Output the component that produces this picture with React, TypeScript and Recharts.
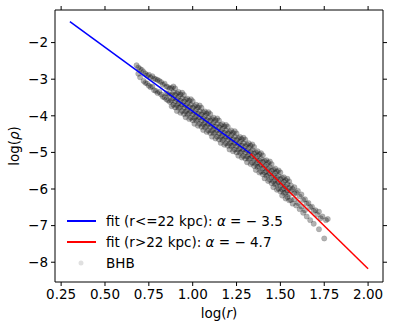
import React from "react";
import {
  ComposedChart,
  Scatter,
  XAxis,
  YAxis,
} from "recharts";

// BHB stars: [log(r), log(rho)]
const bhb: [number, number][] = [
  [0.68, -2.62], [0.69, -2.68], [0.69, -2.85], [0.7, -2.72], [0.7, -2.95], [0.71, -2.75],
  [0.72, -2.8], [0.72, -3.05], [0.73, -2.85], [0.73, -3.1], [0.74, -2.9], [0.74, -3.12],
  [0.75, -2.88], [0.75, -3.18], [0.76, -2.95], [0.76, -3.22], [0.77, -2.92], [0.77, -3.2],
  [0.78, -2.98], [0.78, -3.3], [0.79, -3.0], [0.79, -3.32], [0.8, -3.02], [0.8, -3.38],
  [0.81, -3.05], [0.81, -3.35], [0.82, -3.08], [0.82, -3.42], [0.83, -3.15], [0.83, -3.48],
  [0.84, -3.12], [0.84, -3.5], [0.85, -3.2], [0.85, -3.55], [0.85, -3.38], [0.86, -3.22],
  [0.86, -3.58], [0.86, -3.4], [0.87, -3.25], [0.87, -3.62], [0.87, -3.45],
  [0.88, -3.24], [0.88, -3.41], [0.88, -3.58], [0.88, -3.74],
  [0.89, -3.35], [0.89, -3.52], [0.89, -3.7], [0.89, -3.2],
  [0.9, -3.25], [0.9, -3.43], [0.9, -3.61], [0.9, -3.77],
  [0.91, -3.55], [0.91, -3.87], [0.91, -3.39], [0.91, -3.71],
  [0.92, -3.35], [0.92, -3.65], [0.92, -3.78], [0.92, -3.48],
  [0.93, -3.42], [0.93, -3.59], [0.93, -3.76], [0.93, -3.92],
  [0.94, -3.52], [0.94, -3.69], [0.94, -3.87], [0.94, -3.37],
  [0.95, -3.43], [0.95, -3.61], [0.95, -3.79], [0.95, -3.95],
  [0.96, -3.72], [0.96, -4.04], [0.96, -3.56], [0.96, -3.88],
  [0.97, -3.53], [0.97, -3.83], [0.97, -3.96], [0.97, -3.66],
  [0.98, -3.59], [0.98, -3.76], [0.98, -3.93], [0.98, -4.09],
  [0.99, -3.7], [0.99, -3.87], [0.99, -4.05], [0.99, -3.55],
  [1.0, -3.6], [1.0, -3.78], [1.0, -3.96], [1.0, -4.12],
  [1.01, -3.9], [1.01, -4.22], [1.01, -3.74], [1.01, -4.06],
  [1.02, -3.7], [1.02, -4.0], [1.02, -4.13], [1.02, -3.83],
  [1.03, -3.77], [1.03, -3.94], [1.03, -4.11], [1.03, -4.27],
  [1.04, -3.87], [1.04, -4.04], [1.04, -4.22], [1.04, -3.72],
  [1.05, -3.78], [1.05, -3.96], [1.05, -4.14], [1.05, -4.3],
  [1.06, -4.07], [1.06, -4.39], [1.06, -3.91], [1.06, -4.23],
  [1.07, -3.88], [1.07, -4.18], [1.07, -4.31], [1.07, -4.01],
  [1.08, -3.94], [1.08, -4.11], [1.08, -4.28], [1.08, -4.44],
  [1.09, -4.05], [1.09, -4.22], [1.09, -4.4], [1.09, -3.9],
  [1.1, -3.95], [1.1, -4.13], [1.1, -4.31], [1.1, -4.47],
  [1.11, -4.25], [1.11, -4.57], [1.11, -4.09], [1.11, -4.41],
  [1.12, -4.05], [1.12, -4.35], [1.12, -4.48], [1.12, -4.18],
  [1.13, -4.12], [1.13, -4.29], [1.13, -4.46], [1.13, -4.62],
  [1.14, -4.22], [1.14, -4.39], [1.14, -4.57], [1.14, -4.07],
  [1.15, -4.13], [1.15, -4.31], [1.15, -4.49], [1.15, -4.65],
  [1.16, -4.42], [1.16, -4.74], [1.16, -4.26], [1.16, -4.58],
  [1.17, -4.23], [1.17, -4.53], [1.17, -4.66], [1.17, -4.36],
  [1.18, -4.29], [1.18, -4.46], [1.18, -4.63], [1.18, -4.79],
  [1.19, -4.4], [1.19, -4.57], [1.19, -4.75], [1.19, -4.25],
  [1.2, -4.3], [1.2, -4.48], [1.2, -4.66], [1.2, -4.82],
  [1.21, -4.6], [1.21, -4.92], [1.21, -4.44], [1.21, -4.76],
  [1.22, -4.4], [1.22, -4.7], [1.22, -4.83], [1.22, -4.53],
  [1.23, -4.47], [1.23, -4.64], [1.23, -4.81], [1.23, -4.97],
  [1.24, -4.57], [1.24, -4.74], [1.24, -4.92], [1.24, -4.42],
  [1.25, -4.48], [1.25, -4.66], [1.25, -4.84], [1.25, -5.0],
  [1.26, -4.77], [1.26, -5.09], [1.26, -4.61], [1.26, -4.93],
  [1.27, -4.58], [1.27, -4.88], [1.27, -5.01], [1.27, -4.71],
  [1.28, -4.64], [1.28, -4.81], [1.28, -4.98], [1.28, -5.14],
  [1.29, -4.75], [1.29, -4.92], [1.29, -5.1], [1.29, -4.6],
  [1.3, -4.65], [1.3, -4.83], [1.3, -5.01], [1.3, -5.17],
  [1.31, -4.95], [1.31, -5.27], [1.31, -4.79], [1.31, -5.11],
  [1.32, -4.75], [1.32, -5.05], [1.32, -5.18], [1.32, -4.88],
  [1.33, -4.82], [1.33, -4.99], [1.33, -5.16], [1.33, -5.32],
  [1.34, -4.93], [1.34, -5.1], [1.34, -5.28], [1.34, -4.78],
  [1.35, -4.85], [1.35, -5.03], [1.35, -5.21], [1.35, -5.37],
  [1.36, -5.16], [1.36, -5.48], [1.36, -5.0], [1.36, -5.32],
  [1.37, -4.97], [1.37, -5.27], [1.37, -5.4], [1.37, -5.1],
  [1.38, -5.05], [1.38, -5.22], [1.38, -5.39], [1.38, -5.55],
  [1.39, -5.17], [1.39, -5.34], [1.39, -5.52], [1.39, -5.02],
  [1.4, -5.08], [1.4, -5.26], [1.4, -5.44], [1.4, -5.6],
  [1.41, -5.39], [1.41, -5.71], [1.41, -5.23], [1.41, -5.55],
  [1.42, -5.21], [1.42, -5.51], [1.42, -5.64], [1.42, -5.34],
  [1.43, -5.28], [1.43, -5.45], [1.43, -5.62], [1.43, -5.78],
  [1.44, -5.4], [1.44, -5.57], [1.44, -5.75], [1.44, -5.25],
  [1.45, -5.32], [1.45, -5.5], [1.45, -5.68], [1.45, -5.84],
  [1.46, -5.63], [1.46, -5.95], [1.46, -5.47], [1.46, -5.79],
  [1.47, -5.44], [1.47, -5.74], [1.47, -5.87], [1.47, -5.57],
  [1.48, -5.52], [1.48, -5.69], [1.48, -5.86], [1.48, -6.02],
  [1.49, -5.64], [1.49, -5.81], [1.49, -5.99], [1.49, -5.49],
  [1.5, -5.55], [1.5, -5.73], [1.5, -5.91], [1.5, -6.07],
  [1.51, -5.86], [1.51, -6.18], [1.51, -5.7], [1.51, -6.02],
  [1.52, -5.68], [1.52, -5.98], [1.52, -6.11], [1.52, -5.81],
  [1.53, -5.76], [1.53, -5.93], [1.53, -6.1], [1.53, -6.26],
  [1.54, -5.87], [1.54, -6.04], [1.54, -6.22], [1.54, -5.72],
  [1.55, -5.79], [1.55, -5.97], [1.55, -6.15], [1.55, -6.31],
  [1.56, -5.9], [1.56, -6.3], [1.56, -6.05], [1.57, -6.0], [1.57, -6.4],
  [1.58, -5.95], [1.58, -6.28], [1.58, -6.12], [1.59, -6.1], [1.59, -6.45],
  [1.6, -6.05], [1.6, -6.38], [1.61, -6.2], [1.61, -6.55], [1.62, -6.15], [1.62, -6.48],
  [1.63, -6.3], [1.63, -6.65], [1.64, -6.28], [1.64, -6.58], [1.65, -6.4], [1.65, -6.75],
  [1.66, -6.38], [1.67, -6.5], [1.67, -6.85], [1.68, -6.48], [1.69, -6.6], [1.69, -6.95],
  [1.7, -6.58], [1.71, -6.7], [1.72, -6.62], [1.72, -7.1], [1.73, -6.8], [1.74, -6.75],
  [1.75, -7.35], [1.76, -6.85], [1.77, -6.82],
];

// power-law fits (end points)
const fitInnerR = [0.3, 1.33];
const fitInnerRho = [-1.43, -5.035];
const fitOuterR = [1.33, 2.0];
const fitOuterRho = [-5.035, -8.18];

const xTicks = [0.25, 0.5, 0.75, 1.0, 1.25, 1.5, 1.75, 2.0];
const yTicks = [-8, -7, -6, -5, -4, -3, -2];

const bhbData = bhb.map(([x, y]) => ({ x, y }));
const innerData = fitInnerR.map((x, i) => ({ x, y: fitInnerRho[i] }));
const outerData = fitOuterR.map((x, i) => ({ x, y: fitOuterRho[i] }));

const font = "DejaVu Sans, sans-serif";
const fs = 13.5;
const tickStyle = { fill: "#000", fontSize: fs, fontFamily: font };
const minus = (v: number) => String(v).replace("-", "\u2212");

const Dot = (p: any) => (
  <circle
    cx={p.cx}
    cy={p.cy}
    r={2.7}
    fill="#000"
    fillOpacity={0.3}
    stroke="#000"
    strokeOpacity={0.12}
    strokeWidth={0.8}
  />
);
const NoDot = () => <g />;

function LegendBox() {
  const row = { display: "flex", alignItems: "center", height: 21 };
  const txt = { fontFamily: font, fontSize: fs, color: "#000", marginLeft: 10, whiteSpace: "nowrap" as const };
  return (
    <div style={{ position: "absolute", left: 67, top: 210 }}>
      <div style={row}>
        <svg width={29} height={4}><line x1={0} y1={2} x2={29} y2={2} stroke="blue" strokeWidth={2} /></svg>
        <span style={txt}>fit (r&lt;=22 kpc): <i>α</i> = − 3.5</span>
      </div>
      <div style={row}>
        <svg width={29} height={4}><line x1={0} y1={2} x2={29} y2={2} stroke="red" strokeWidth={2} /></svg>
        <span style={txt}>fit (r&gt;22 kpc): <i>α</i> = − 4.7</span>
      </div>
      <div style={row}>
        <svg width={29} height={8}><circle cx={14} cy={4} r={2.5} fill="#000" fillOpacity={0.12} /></svg>
        <span style={txt}>BHB</span>
      </div>
    </div>
  );
}

export default function App() {
  return (
    <div style={{ position: "absolute", left: 0, top: 0, width: 394, height: 330, background: "#fff" }}>
      <ComposedChart
        width={394}
        height={330}
        margin={{ top: 9, right: 10, bottom: 0, left: 0 }}
      >
        <XAxis
          xAxisId="b"
          type="number"
          dataKey="x"
          domain={[0.215, 2.085]}
          ticks={xTicks}
          tickFormatter={(v: number) => v.toFixed(2)}
          tick={tickStyle}
          tickSize={4}
          tickMargin={3}
          height={48}
          stroke="#000"
          allowDataOverflow
          label={{
            content: () => (
              <text x={219} y={318} textAnchor="middle" fontFamily={font} fontSize={fs} fill="#000">
                log(<tspan fontStyle="italic">r</tspan>)
              </text>
            ),
          }}
        />
        <XAxis
          xAxisId="t"
          orientation="top"
          type="number"
          dataKey="x"
          domain={[0.215, 2.085]}
          ticks={xTicks}
          tickFormatter={() => ""}
          tickSize={4}
          height={1}
          stroke="#000"
          allowDataOverflow
        />
        <YAxis
          yAxisId="l"
          type="number"
          dataKey="y"
          domain={[-8.54, -1.11]}
          ticks={yTicks}
          tickFormatter={minus}
          tick={tickStyle}
          tickSize={4}
          tickMargin={3}
          width={55}
          stroke="#000"
          allowDataOverflow
          label={{
            content: () => (
              <text
                x={19}
                y={146}
                textAnchor="middle"
                transform="rotate(-90 19 146)"
                fontFamily={font}
                fontSize={fs}
                fill="#000"
              >
                log(<tspan fontStyle="italic">ρ</tspan>)
              </text>
            ),
          }}
        />
        <YAxis
          yAxisId="r"
          orientation="right"
          type="number"
          dataKey="y"
          domain={[-8.54, -1.11]}
          ticks={yTicks}
          tickFormatter={() => ""}
          tickSize={4}
          width={1}
          stroke="#000"
          allowDataOverflow
        />
        <Scatter
          xAxisId="b"
          yAxisId="l"
          data={bhbData}
          shape={Dot}
          isAnimationActive={false}
        />
        <Scatter
          xAxisId="b"
          yAxisId="l"
          data={innerData}
          shape={NoDot}
          line={{ stroke: "blue", strokeWidth: 1.5 }}
          stroke="blue"
          isAnimationActive={false}
        />
        <Scatter
          xAxisId="b"
          yAxisId="l"
          data={outerData}
          shape={NoDot}
          line={{ stroke: "red", strokeWidth: 1.5 }}
          stroke="red"
          isAnimationActive={false}
        />
      </ComposedChart>
      <LegendBox />
    </div>
  );
}
